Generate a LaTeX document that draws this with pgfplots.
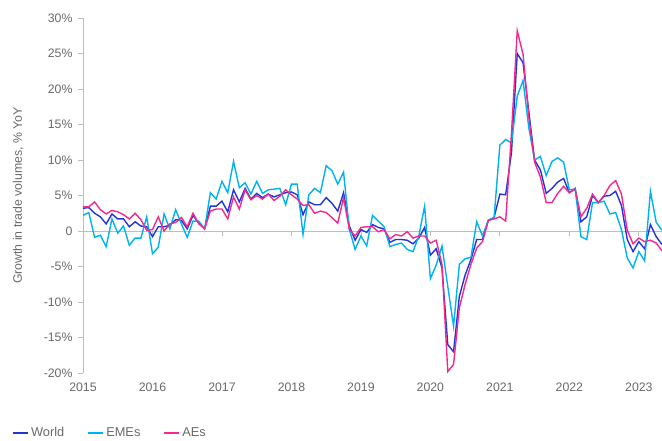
\documentclass[border=0pt]{standalone}
\usepackage{pgfplots}
\pgfplotsset{compat=1.18}
\usepackage{pgfplotstable}
\usepackage{fontspec}
\setmainfont{Liberation Sans}
\definecolor{worldc}{RGB}{35,52,215}
\definecolor{emec}{RGB}{0,178,240}
\definecolor{aec}{RGB}{245,40,140}
\definecolor{textgray}{RGB}{105,105,105}
\definecolor{axgray}{RGB}{190,190,190}
\pgfplotstableread{
i world emes aes
0 3.2 2.2 3.4
1 3.3 2.6 3.4
2 2.5 -0.9 4.1
3 2.0 -0.6 3.0
4 1.0 -2.2 2.4
5 2.4 1.7 2.9
6 1.7 -0.3 2.7
7 1.7 0.7 2.3
8 0.6 -2.0 1.7
9 1.3 -1.0 2.5
10 0.7 -1.0 1.6
11 0.6 2.0 0.1
12 -0.8 -3.2 0.2
13 0.6 -2.3 2.0
14 0.6 2.4 0.0
15 0.8 0.3 1.0
16 1.6 3.0 1.2
17 1.5 1.0 1.9
18 0.3 -0.9 0.6
19 2.2 1.4 2.5
20 1.1 1.4 1.0
21 0.3 0.3 0.3
22 3.5 5.4 2.8
23 3.5 4.5 3.1
24 4.2 7.0 3.1
25 2.7 5.4 1.7
26 5.8 9.8 4.8
27 4.1 6.1 3.1
28 6.0 6.8 5.8
29 4.5 5.2 4.4
30 5.3 7.0 5.0
31 4.7 5.3 4.5
32 5.2 5.8 5.2
33 4.8 5.9 4.3
34 5.1 6.0 4.9
35 5.4 3.7 5.8
36 5.5 6.6 5.1
37 5.1 6.6 4.5
38 2.3 -0.5 3.6
39 4.1 5.1 3.7
40 3.7 6.0 2.5
41 3.7 5.4 2.8
42 4.7 9.2 2.6
43 3.9 8.5 1.9
44 2.8 6.6 1.1
45 5.4 8.3 4.7
46 0.7 0.2 0.2
47 -1.3 -2.6 -0.7
48 0.2 -0.7 0.5
49 -0.2 -2.1 0.6
50 0.9 2.2 0.6
51 0.5 1.4 -0.1
52 0.3 0.6 0.2
53 -1.6 -2.2 -1.1
54 -1.2 -1.9 -0.5
55 -1.2 -1.7 -0.7
56 -1.3 -2.6 -0.1
57 -1.8 -2.9 -1.0
58 -1.0 -0.7 -0.7
59 0.5 3.5 -0.7
60 -3.4 -6.7 -1.7
61 -2.5 -4.8 -1.3
62 -5.2 -2.1 -4.7
63 -16.0 -7.8 -19.8
64 -17.0 -13.4 -18.8
65 -9.2 -4.7 -10.8
66 -6.2 -3.9 -7.5
67 -4.0 -3.7 -4.7
68 -1.2 1.3 -2.4
69 -1.2 -0.7 -1.5
70 1.5 1.5 1.5
71 1.9 1.9 1.7
72 5.2 12.1 2.0
73 5.1 12.9 1.4
74 11.0 12.4 13.7
75 25.0 19.0 28.2
76 23.7 21.2 24.9
77 16.8 14.5 16.0
78 10.0 10.0 9.7
79 8.6 10.5 7.6
80 5.3 7.8 4.0
81 6.0 9.8 4.0
82 6.9 10.3 5.3
83 7.4 9.7 6.3
84 5.4 5.8 5.4
85 6.0 5.9 5.9
86 1.3 -0.8 2.0
87 2.0 -1.2 3.2
88 5.0 4.0 5.2
89 4.0 4.0 4.0
90 4.9 4.2 5.0
91 5.0 2.4 6.4
92 5.6 2.6 7.1
93 3.6 0.2 5.2
94 -1.2 -3.8 0.1
95 -2.9 -5.2 -1.8
96 -1.5 -2.9 -1.0
97 -2.5 -4.2 -1.5
98 0.9 5.6 -1.3
99 -0.8 1.2 -1.7
100 -1.9 0.1 -2.8
}\trade
\begin{document}
\begin{tikzpicture}
\useasboundingbox (0,0) rectangle (662pt,440pt);
\begin{axis}[
  at={(83pt,67pt)}, anchor=south west,
  scale only axis, width=579pt, height=355pt,
  xmin=0, xmax=100, ymin=-20, ymax=30,
  axis lines*=left,
  x axis line style={draw=none},
  y axis line style={axgray, line width=0.8pt},
  xtick={0,12,...,96},
  xticklabels={2015,2016,2017,2018,2019,2020,2021,2022,2023},
  ytick={-20,-15,...,30},
  yticklabels={-20\%,-15\%,-10\%,-5\%,0,5\%,10\%,15\%,20\%,25\%,30\%},
  xtick style={draw=none},
  ytick style={axgray, line width=0.8pt},
  tick align=outside, major tick length=5pt,
  ytick pos=left,
  tick label style={font=\fontsize{12.3}{14}\selectfont, text=textgray},
  yticklabel style={xshift=-2pt},
  xticklabel style={yshift=-1pt},
  every axis y label/.style={at={(axis description cs:-0.112,0.5)}, rotate=90, anchor=center, font=\fontsize{12.3}{14}\selectfont, text=textgray},
  ylabel={Growth in trade volumes, \% YoY},
  legend style={draw=none, fill=none, at={(axis description cs:-0.128,-0.169)}, anchor=west,
    legend columns=3, font=\fontsize{12.8}{14}\selectfont, text=textgray,
    /tikz/every even column/.append style={column sep=21pt}},
  legend image code/.code={\draw[#1, line width=2pt] (0pt,0pt) -- (15pt,0pt);},
  legend cell align=left,
]
\draw[axgray, line width=0.8pt] (axis cs:0,0) -- (axis cs:100,0);
\pgfplotsinvokeforeach{12,24,36,48,60,72,84,96}{\draw[axgray, line width=0.8pt] (axis cs:#1,0) -- ++(0pt,-5pt);}
\addplot[worldc, line width=1.4pt] table[x=i, y=world] {\trade};
\addplot[emec, line width=1.4pt] table[x=i, y=emes] {\trade};
\addplot[aec, line width=1.4pt] table[x=i, y=aes] {\trade};
\legend{World, EMEs, AEs}
\end{axis}
\end{tikzpicture}
\end{document}
